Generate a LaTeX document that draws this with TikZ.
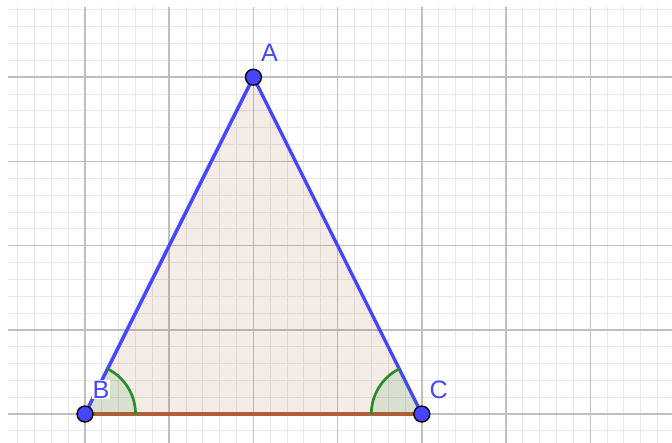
\documentclass[tikz,border=0pt]{standalone}
\usepackage{fontspec}
\setmainfont{Liberation Sans}
\usepackage{tikz}
\usetikzlibrary{angles,calc}

\definecolor{gblue}{RGB}{70,70,255}
\definecolor{gbrown}{RGB}{176,96,56}
\definecolor{gfill}{RGB}{140,70,20}
\definecolor{ggreen}{RGB}{40,140,40}

\begin{document}
\begin{tikzpicture}[
    x=2cm, y=2cm,
    minorgrid/.style={draw=black!9, line width=0.6pt},
    majorgrid/.style={draw=black!25, line width=1pt},
    side/.style={gblue, line width=2.3pt},
    base/.style={gbrown, line width=2.2pt},
    angmark/.style={draw=ggreen, fill=ggreen, fill opacity=0.12, line width=1.8pt, angle radius=1.2cm},
    pt/.style={circle, fill=gblue, draw=black, line width=0.9pt, minimum size=10.8pt, inner sep=0pt},
    ptlabel/.style={text=gblue, font=\fontsize{17}{20}\selectfont, inner sep=0.5pt}
]
\useasboundingbox (-1.0095,-0.3325) rectangle (6.971,4.917);

% grid
\begin{scope}
\clip (-0.914,-0.3325) rectangle (6.971,4.822);
\draw[minorgrid] (-1.2,-0.6) grid[step=0.2] (7.2,5.2);
\draw[majorgrid] (-1.2,-0.6) grid[step=1] (7.2,5.2);
\end{scope}

\coordinate (B) at (0,0);
\coordinate (C) at (4,0);
\coordinate (A) at (2,4);

% triangle
\fill[gfill, fill opacity=0.1] (A) -- (B) -- (C) -- cycle;
\draw[base] (B) -- (C);
\draw[side] (B) -- (A);
\draw[side] (A) -- (C);

% angles
\pic[angmark] {angle=C--B--A};
\pic[angmark] {angle=A--C--B};

% labels and points
\node[ptlabel] (lblA) at ($(A)+(0.19,0.29)$) {A};
\node[ptlabel, fill=white] (lblB) at ($(B)+(0.19,0.29)$) {B};
\node[ptlabel] (lblC) at ($(C)+(0.2,0.29)$) {C};
\node[pt] (dotA) at (A) {};
\node[pt] (dotB) at (B) {};
\node[pt] (dotC) at (C) {};
\end{tikzpicture}
\end{document}
